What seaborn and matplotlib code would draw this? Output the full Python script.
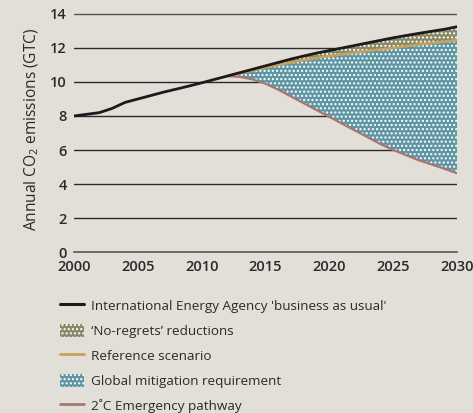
import seaborn as sns
import matplotlib.pyplot as plt
import matplotlib.patches as mpatches
from matplotlib.lines import Line2D

# data
years = list(range(2000, 2031))
bau = [8.0, 8.1, 8.2, 8.45, 8.8, 9.0, 9.2, 9.4, 9.58, 9.76, 9.95, 10.15, 10.35,
       10.55, 10.75, 10.95, 11.15, 11.35, 11.53, 11.7, 11.85, 12.0, 12.15, 12.3,
       12.45, 12.6, 12.73, 12.86, 12.98, 13.1, 13.25]
years_split = list(range(2012, 2031))
reference = [10.35, 10.5, 10.68, 10.85, 11.0, 11.15, 11.3, 11.42, 11.53, 11.63,
             11.73, 11.83, 11.92, 12.0, 12.1, 12.2, 12.28, 12.37, 12.47]
emergency = [10.35, 10.3, 10.15, 9.9, 9.55, 9.15, 8.75, 8.35, 7.95, 7.55, 7.15,
             6.75, 6.35, 6.0, 5.7, 5.4, 5.15, 4.9, 4.63]
bau_split = bau[12:]

labels = ["International Energy Agency 'business as usual'",
          "\u2018No-regrets\u2019 reductions",
          "Reference scenario",
          "Global mitigation requirement",
          "2\u02daC Emergency pathway"]

BG = '#e2dfd9'
C_BAU = '#1c1a1a'
C_OLIVE = '#868866'
C_REF = '#c9a05c'
C_BLUE = '#5f96a4'
C_RED = '#a8766f'
HATCH = '....'

sns.set_style('white')
plt.rcParams['font.family'] = ['Open Sans', 'DejaVu Sans']
plt.rcParams['hatch.color'] = 'white'
plt.rcParams['hatch.linewidth'] = 1.0
plt.rcParams['mathtext.default'] = 'regular'

fig = plt.figure(figsize=(4.73, 4.13), dpi=100, facecolor=BG)
ax = fig.add_axes([0.1564, 0.3898, 0.8098, 0.5928])
ax.set_facecolor(BG)

# hatched areas
ax.fill_between(years_split, reference, bau_split, facecolor=C_OLIVE,
                edgecolor='white', hatch=HATCH, linewidth=0, zorder=2)
ax.fill_between(years_split, emergency, reference, facecolor=C_BLUE,
                edgecolor='white', hatch=HATCH, linewidth=0, zorder=2)

sns.lineplot(x=years_split, y=emergency, color=C_RED, lw=1.6, ax=ax, zorder=3)
sns.lineplot(x=years_split, y=reference, color=C_REF, lw=1.8, ax=ax, zorder=3)
sns.lineplot(x=years, y=bau, color=C_BAU, lw=2.0, ax=ax, zorder=4)

ax.set_xlim(2000, 2030)
ax.set_ylim(0, 14.4)
ax.set_xticks(range(2000, 2031, 5))
ax.set_yticks(range(0, 15, 2))
for v in range(2, 15, 2):
    ax.axhline(v, color='#2a2a2a' if v < 14 else '#555555', lw=1.0, zorder=1)

for s in ['left', 'right', 'top']:
    ax.spines[s].set_visible(False)
ax.spines['bottom'].set_color('#555555')
ax.spines['bottom'].set_linewidth(1.2)
ax.tick_params(axis='x', direction='out', length=4, width=1, color='#444444',
               labelsize=10.5, pad=2, labelcolor='#2a2a2a')
ax.tick_params(axis='y', length=0, labelsize=10.5, pad=5, labelcolor='#2a2a2a')
for t in ax.get_xticklabels() + ax.get_yticklabels():
    t.set_fontweight('semibold')

ax.set_ylabel('Annual CO$_2$ emissions (GTC)', fontsize=11.2, color='#2a2a2a',
              labelpad=7)

handles = [
    Line2D([], [], color=C_BAU, lw=2.2),
    mpatches.Patch(facecolor=C_OLIVE, edgecolor='white', hatch=HATCH, lw=0),
    Line2D([], [], color=C_REF, lw=2.0),
    mpatches.Patch(facecolor=C_BLUE, edgecolor='white', hatch=HATCH, lw=0),
    Line2D([], [], color=C_RED, lw=2.0),
]
leg = fig.legend(handles, labels, loc='upper left',
                 bbox_to_anchor=(0.112, 0.293), frameon=False, fontsize=9.7,
                 handlelength=1.8, handleheight=1.1, handletextpad=0.55,
                 labelspacing=0.81, borderpad=0)
for t in leg.get_texts():
    t.set_color('#2a2a2a')

fig.savefig('out.png', dpi=100, facecolor=BG)
